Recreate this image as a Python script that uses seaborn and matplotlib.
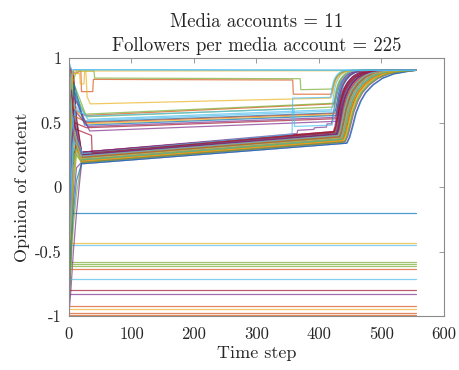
import matplotlib
matplotlib.use("Agg")
import matplotlib.pyplot as plt
import numpy as np
import pandas as pd
import seaborn as sns

# MATLAB default line colour order
line_colors = ["#0072BD", "#D95319", "#EDB120", "#7E2F8E", "#77AC30", "#4DBEEE", "#A2142F"]

t_end = 555
consensus = 0.905

# shape of the late climb to consensus: steps after onset and fraction of the climb done
rise_steps = [0, 3, 6, 10, 15, 20, 28, 38, 50, 65, 85]
rise_frac = [0.0, 0.08, 0.22, 0.42, 0.58, 0.69, 0.80, 0.89, 0.95, 0.985, 1.0]

# users that never move from their opinion
stuck_opinion = [-0.204, -0.437, -0.45, -0.584, -0.597, -0.612, -0.636, -0.716,
                 -0.798, -0.832, -0.925, -0.948, -0.98, -0.99, -1.0]
stuck_color = [0, 2, 5, 4, 4, 4, 1, 5, 6, 3, 1, 2, 1, 1, 4]

# main bundle: opinion at t = 0, 3, 7, 12, 20, value at climb onset, onset step, climb span
bundle_t0 = [-0.95, 0.62, -0.41, 0.88, 0.05, -0.72, 0.35, -0.18, 0.93, -0.6,
             0.21, -0.86, 0.47, -0.3, 0.74, -0.05, 0.55, -0.98, 0.14, -0.5,
             0.81, -0.24, 0.4, -0.79, 0.97, -0.12, 0.28, -0.66, 0.68, -0.36,
             0.09, -0.9, 0.51, -0.45, 0.85, -0.2, 0.33, -0.7, 0.6, 0.0,
             -0.55, 0.77, -0.83, 0.18, -0.08, 0.44, -0.93, 0.7]
bundle_t3 = [-0.55, 0.85, 0.1, 0.7, 0.45, -0.3, 0.8, 0.3, 0.78, -0.15,
             0.6, -0.6, 0.9, 0.15, 0.5, 0.4, 0.82, -0.8, 0.55, -0.05,
             0.65, 0.25, 0.75, -0.35, 0.88, 0.35, 0.7, -0.2, 0.6, 0.1,
             0.5, -0.5, 0.9, 0.0, 0.72, 0.2, 0.68, -0.25, 0.85, 0.45,
             -0.1, 0.92, -0.45, 0.6, 0.3, 0.8, -0.55, 0.55]
bundle_t7 = [0.1, 0.6, 0.5, 0.85, 0.3, 0.2, 0.65, 0.7, 0.5, 0.35,
             0.4, -0.3, 0.75, 0.55, 0.8, 0.25, 0.45, -0.5, 0.65, 0.4,
             0.9, 0.15, 0.55, 0.05, 0.7, 0.6, 0.35, 0.25, 0.8, 0.45,
             0.7, -0.1, 0.6, 0.3, 0.55, 0.5, 0.75, 0.15, 0.65, 0.2,
             0.35, 0.85, -0.2, 0.45, 0.6, 0.5, 0.0, 0.75]
bundle_t12 = [0.35, 0.4, 0.3, 0.5, 0.45, 0.3, 0.35, 0.4, 0.55, 0.25,
              0.32, -0.05, 0.45, 0.38, 0.42, 0.3, 0.5, -0.2, 0.35, 0.28,
              0.48, 0.33, 0.4, 0.3, 0.52, 0.36, 0.3, 0.34, 0.46, 0.3,
              0.4, 0.15, 0.44, 0.27, 0.5, 0.35, 0.42, 0.29, 0.47, 0.31,
              0.33, 0.5, 0.05, 0.37, 0.34, 0.43, 0.25, 0.45]
bundle_t20 = [0.22, 0.25, 0.2, 0.26, 0.21, 0.19, 0.24, 0.23, 0.27, 0.2,
              0.22, 0.19, 0.25, 0.21, 0.24, 0.2, 0.26, 0.18, 0.23, 0.21,
              0.25, 0.22, 0.24, 0.2, 0.27, 0.23, 0.21, 0.22, 0.25, 0.2,
              0.24, 0.19, 0.26, 0.21, 0.25, 0.22, 0.24, 0.2, 0.26, 0.21,
              0.22, 0.27, 0.18, 0.23, 0.22, 0.25, 0.19, 0.24]
bundle_t_onset = [0.38, 0.41, 0.36, 0.42, 0.37, 0.35, 0.40, 0.39, 0.43, 0.36,
                  0.38, 0.35, 0.41, 0.37, 0.40, 0.36, 0.42, 0.34, 0.39, 0.37,
                  0.41, 0.38, 0.40, 0.36, 0.43, 0.39, 0.37, 0.38, 0.41, 0.36,
                  0.40, 0.35, 0.42, 0.37, 0.41, 0.38, 0.40, 0.36, 0.42, 0.37,
                  0.38, 0.43, 0.34, 0.39, 0.38, 0.41, 0.35, 0.40]
bundle_onset = [434, 428, 438, 426, 436, 441, 430, 432, 424, 439,
                433, 440, 427, 437, 431, 438, 425, 444, 432, 435,
                429, 434, 430, 437, 423, 433, 436, 435, 428, 438,
                431, 442, 426, 436, 428, 434, 430, 439, 427, 437,
                434, 425, 445, 433, 435, 429, 441, 431]
bundle_span = [1.1, 0.9, 1.25, 0.85, 1.2, 1.35, 0.95, 1.05, 0.8, 1.3,
               1.1, 1.35, 0.9, 1.2, 1.0, 1.25, 0.85, 1.5, 1.05, 1.15,
               0.9, 1.1, 1.0, 1.25, 0.8, 1.05, 1.2, 1.1, 0.9, 1.3,
               1.0, 1.4, 0.85, 1.2, 0.9, 1.1, 1.0, 1.3, 0.85, 1.2,
               1.1, 0.8, 1.5, 1.05, 1.1, 0.9, 1.4, 1.0]

# middle group: opinion at t = 0, 3, 8, settle step, settled value, value at onset, onset, span, colour
mid_t0 = [0.3, 0.9, -0.2, 0.6, -0.6, 0.75, -0.1, 0.45, 0.2, -0.4, 0.85, 0.1]
mid_t3 = [0.8, 0.7, 0.5, 0.9, 0.2, 0.6, 0.7, 0.85, 0.5, 0.3, 0.75, 0.6]
mid_t8 = [0.6, 0.75, 0.8, 0.7, 0.65, 0.8, 0.55, 0.62, 0.75, 0.6, 0.5, 0.7]
mid_settle_step = [25, 25, 28, 30, 26, 24, 30, 27, 25, 30, 28, 33]
mid_settled = [0.555, 0.565, 0.545, 0.525, 0.515, 0.505, 0.50, 0.49, 0.48, 0.47, 0.46, 0.435]
mid_at_onset = [0.645, 0.65, 0.62, 0.60, 0.59, 0.575, 0.57, 0.56, 0.555, 0.54, 0.53, 0.51]
mid_onset = [424, 424, 422, 420, 426, 425, 427, 423, 428, 426, 429, 430]
mid_span = [0.55, 0.5, 0.5, 0.4, 0.5, 0.6, 0.6, 0.5, 0.6, 0.6, 0.7, 0.7]
mid_color = [1, 4, 4, 5, 5, 0, 1, 2, 0, 3, 6, 3]

# users whose opinion jumps in steps: step times, opinions, climb span (None = no climb), colour
step_times = [[0, 4, 10, 19, 20, 38, 39, 358, 359, 420],
              [0, 5, 12, 40, 41, 370, 371, 421],
              [0, 6, 27, 29, 34, 419],
              [0, 5, 17, 18, 24, 25, t_end],
              [0, 3, 8, 20, 365, 366, 392, 393, 412, 413, 420],
              [0, 4, 9, 22, 357, 358, 418],
              [0, 4, 10, 36, 37, 424],
              [0, 3, 10, 30, 360, 361, 421],
              [0, 4, t_end],
              [0, 3, 8, t_end]]
step_opinion = [[0.5, 0.9, 0.88, 0.9, 0.74, 0.74, 0.835, 0.83, 0.72, 0.72],
                [0.2, 0.8, 0.9, 0.9, 0.845, 0.84, 0.755, 0.76],
                [-0.1, 0.9, 0.9, 0.7, 0.645, 0.69],
                [0.7, 0.88, 0.88, 0.8, 0.8, 0.9, 0.903],
                [-0.3, 0.3, 0.5, 0.27, 0.415, 0.44, 0.447, 0.46, 0.465, 0.49, 0.49],
                [0.8, 0.6, 0.4, 0.26, 0.41, 0.69, 0.695],
                [0.6, 0.75, 0.45, 0.40, 0.265, 0.425],
                [-0.5, 0.4, 0.6, 0.55, 0.605, 0.47, 0.48],
                [0.97, 0.91, consensus],
                [0.4, 0.85, 0.91, 0.907]]
step_span = [0.4, 0.4, 0.5, None, 0.6, 0.35, 0.9, 0.5, None, None]
step_color = [1, 4, 2, 2, 3, 5, 6, 5, 5, 5]


def with_climb(times, values, onset, span):
    """Append the climb to consensus after the given onset step, ending at t_end."""
    start = values[-1]
    ts, vs = list(times), list(values)
    for s, f in zip(rise_steps[1:], rise_frac[1:]):
        t = onset + s * span
        if t >= t_end:
            break
        ts.append(t)
        vs.append(start + f * (consensus - start))
    ts.append(t_end)
    vs.append(consensus)
    return ts, vs


paths = []  # (times, opinions, colour)
for i in range(len(bundle_t0)):
    ts = [0, 3, 7, 12, 20, bundle_onset[i]]
    vs = [bundle_t0[i], bundle_t3[i], bundle_t7[i], bundle_t12[i], bundle_t20[i], bundle_t_onset[i]]
    ts, vs = with_climb(ts, vs, bundle_onset[i], bundle_span[i])
    paths.append((ts, vs, line_colors[i % 7]))
    if i % 4 == 1 and i // 4 < len(stuck_opinion):
        j = i // 4
        paths.append(([0, t_end], [stuck_opinion[j], stuck_opinion[j]], line_colors[stuck_color[j]]))
for j in range(12, len(stuck_opinion)):
    paths.append(([0, t_end], [stuck_opinion[j], stuck_opinion[j]], line_colors[stuck_color[j]]))

for i in range(len(mid_t0)):
    ts = [0, 3, 8, mid_settle_step[i], mid_onset[i]]
    vs = [mid_t0[i], mid_t3[i], mid_t8[i], mid_settled[i], mid_at_onset[i]]
    ts, vs = with_climb(ts, vs, mid_onset[i], mid_span[i])
    paths.append((ts, vs, line_colors[mid_color[i]]))

for i in range(len(step_times)):
    ts, vs = step_times[i], step_opinion[i]
    if step_span[i] is not None:
        ts, vs = with_climb(ts, vs, ts[-1], step_span[i])
    paths.append((ts, vs, line_colors[step_color[i]]))

rows = []
palette = {}
for n, (ts, vs, c) in enumerate(paths):
    name = f"user{n:03d}"
    palette[name] = c
    for t, v in zip(ts, vs):
        rows.append({"user": name, "t": t, "opinion": v})
df = pd.DataFrame(rows)

sns.set_style("white")
plt.rcParams["font.family"] = ["cmr10", "DejaVu Serif"]
plt.rcParams["axes.unicode_minus"] = False
plt.rcParams["mathtext.fontset"] = "cm"

fig = plt.figure(figsize=(4.6, 3.7), dpi=100)
ax = fig.add_axes([0.150, 0.146, 0.815, 0.697])

sns.lineplot(data=df, x="t", y="opinion", hue="user", palette=palette,
             estimator=None, sort=False, legend=False, linewidth=0.9,
             alpha=0.7, ax=ax)

ax.set_xlim(0, 600)
ax.set_ylim(-1, 1)
ax.set_xticks([0, 100, 200, 300, 400, 500, 600])
ax.set_xticklabels(["0", "100", "200", "300", "400", "500", "600"])
ax.set_yticks([-1, -0.5, 0, 0.5, 1])
ax.set_yticklabels(["-1", "-0.5", "0", "0.5", "1"])
ax.tick_params(direction="in", top=True, right=True, length=3.5, width=0.6,
               color="#8a8a8a", labelsize=12, labelcolor="#262626")
ax.tick_params(axis="x", pad=8)
ax.tick_params(axis="y", pad=5)
for s in ax.spines.values():
    s.set_visible(True)
    s.set_color("#8a8a8a")
    s.set_linewidth(0.8)

ax.set_xlabel("Time step", fontsize=13, color="#262626", labelpad=2)
ax.set_ylabel("Opinion of content", fontsize=13, color="#262626", labelpad=4)
ax.set_title("Media accounts = 11\nFollowers per media account = 225",
             fontsize=13.5, color="#262626", pad=5, linespacing=1.45)

fig.savefig("out.png", dpi=100)
